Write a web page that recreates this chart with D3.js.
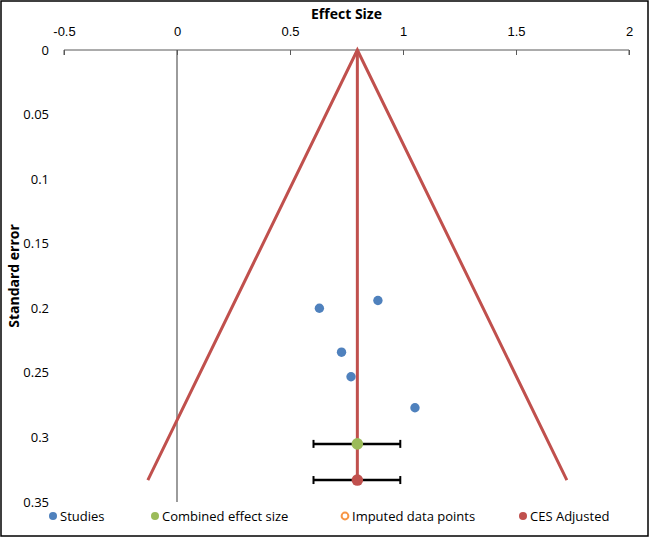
<!DOCTYPE html>
<html>
<head>
<meta charset="utf-8">
<script src="https://cdn.jsdelivr.net/npm/d3@7"></script>
<style>
  body { margin: 0; background: #fff; }
  svg { display: block; font-family: "Open Sans", "Liberation Sans", sans-serif; }
</style>
</head>
<body>
<svg id="chart" width="649" height="537"></svg>
<script>
// values
const xTicks = [-0.5, 0, 0.5, 1, 1.5, 2];
const yTicks = [0, 0.05, 0.1, 0.15, 0.2, 0.25, 0.3, 0.35];

const studyES = [0.630, 0.889, 0.728, 0.770, 1.053];
const studySE = [0.200, 0.194, 0.234, 0.253, 0.277];

const funnelES = [-0.129, 0.798, 1.725];
const funnelSE = [0.333, 0, 0.333];

const cesNames = ["Combined effect size", "CES Adjusted"];
const cesES = [0.798, 0.798];
const cesSE = [0.305, 0.333];
const cesLow = [0.604, 0.604];
const cesHigh = [0.988, 0.988];

const legendNames = ["Studies", "Combined effect size", "Imputed data points", "CES Adjusted"];
const legendColors = ["#4F81BD", "#9BBB59", "#F79646", "#C0504D"];

const svg = d3.select("#chart");
const W = 649, H = 537;

svg.append("rect")
    .attr("x", 1).attr("y", 1)
    .attr("width", W - 2).attr("height", H - 2)
    .attr("fill", "#fff")
    .attr("stroke", "#000")
    .attr("stroke-width", 1.5);

const x = d3.scaleLinear().domain([-0.5, 2]).range([64, 629]);
const y = d3.scaleLinear().domain([0, 0.35]).range([50, 502]);

// top axis (effect size)
const xAxis = svg.append("g")
    .attr("transform", `translate(0,${y(0)})`)
    .call(d3.axisBottom(x).tickValues(xTicks).tickSize(5).tickFormat(d => String(d)));
xAxis.select(".domain").attr("stroke", "#595959").attr("d", `M${x(-0.5)},5V0H${x(2)}V5`);
xAxis.selectAll(".tick line").attr("stroke", "#595959");
xAxis.selectAll(".tick text")
    .attr("y", -14)
    .attr("dy", 0)
    .attr("font-size", 13)
    .attr("fill", "#000");

svg.append("text")
    .attr("x", (x(-0.5) + x(2)) / 2)
    .attr("y", 19)
    .attr("text-anchor", "middle")
    .attr("font-size", 14)
    .attr("font-weight", "bold")
    .text("Effect Size");

// vertical axis line sits at effect size 0, labels on the left
svg.append("line")
    .attr("x1", x(0)).attr("x2", x(0))
    .attr("y1", y(0)).attr("y2", y(0.35))
    .attr("stroke", "#595959")
    .attr("stroke-width", 1.2);

svg.selectAll("text.ytick")
    .data(yTicks)
    .join("text")
    .attr("class", "ytick")
    .attr("x", 49)
    .attr("y", d => y(d))
    .attr("dy", "0.35em")
    .attr("text-anchor", "end")
    .attr("font-size", 13)
    .text(d => String(d));

svg.append("text")
    .attr("transform", `translate(19,${(y(0) + y(0.35)) / 2}) rotate(-90)`)
    .attr("text-anchor", "middle")
    .attr("font-size", 14)
    .attr("font-weight", "bold")
    .text("Standard error");

// funnel
const funnel = funnelES.map((d, i) => [x(d), y(funnelSE[i])]);
svg.append("path")
    .attr("d", d3.line()(funnel))
    .attr("fill", "none")
    .attr("stroke", "#C0504D")
    .attr("stroke-width", 3);

svg.append("line")
    .attr("x1", x(cesES[1])).attr("x2", x(cesES[1]))
    .attr("y1", y(0)).attr("y2", y(cesSE[1]))
    .attr("stroke", "#C0504D")
    .attr("stroke-width", 3);

// studies
svg.selectAll("circle.study")
    .data(studyES)
    .join("circle")
    .attr("class", "study")
    .attr("cx", d => x(d))
    .attr("cy", (d, i) => y(studySE[i]))
    .attr("r", 4.7)
    .attr("fill", "#4F81BD");

// error bars for combined effect sizes
const bars = svg.selectAll("g.ces")
    .data(cesNames)
    .join("g")
    .attr("class", "ces");

bars.append("line")
    .attr("x1", (d, i) => x(cesLow[i]))
    .attr("x2", (d, i) => x(cesHigh[i]))
    .attr("y1", (d, i) => y(cesSE[i]))
    .attr("y2", (d, i) => y(cesSE[i]))
    .attr("stroke", "#000")
    .attr("stroke-width", 2.5);

bars.append("line")
    .attr("x1", (d, i) => x(cesLow[i]))
    .attr("x2", (d, i) => x(cesLow[i]))
    .attr("y1", (d, i) => y(cesSE[i]) - 4)
    .attr("y2", (d, i) => y(cesSE[i]) + 4)
    .attr("stroke", "#000")
    .attr("stroke-width", 2);

bars.append("line")
    .attr("x1", (d, i) => x(cesHigh[i]))
    .attr("x2", (d, i) => x(cesHigh[i]))
    .attr("y1", (d, i) => y(cesSE[i]) - 4)
    .attr("y2", (d, i) => y(cesSE[i]) + 4)
    .attr("stroke", "#000")
    .attr("stroke-width", 2);

bars.append("circle")
    .attr("cx", (d, i) => x(cesES[i]))
    .attr("cy", (d, i) => y(cesSE[i]))
    .attr("r", 5.8)
    .attr("fill", (d, i) => i === 0 ? "#9BBB59" : "#C0504D");

// legend
const legendX = [53, 155, 345, 523];
const legend = svg.selectAll("g.legend")
    .data(legendNames)
    .join("g")
    .attr("class", "legend")
    .attr("transform", (d, i) => `translate(${legendX[i]},516)`);

legend.append("circle")
    .attr("r", (d, i) => i === 2 ? 3.4 : 4)
    .attr("fill", (d, i) => i === 2 ? "#fff" : legendColors[i])
    .attr("stroke", (d, i) => i === 2 ? legendColors[i] : "none")
    .attr("stroke-width", 2);

legend.append("text")
    .attr("x", 7)
    .attr("dy", "0.35em")
    .attr("font-size", 13)
    .text(d => d);
</script>
</body>
</html>
